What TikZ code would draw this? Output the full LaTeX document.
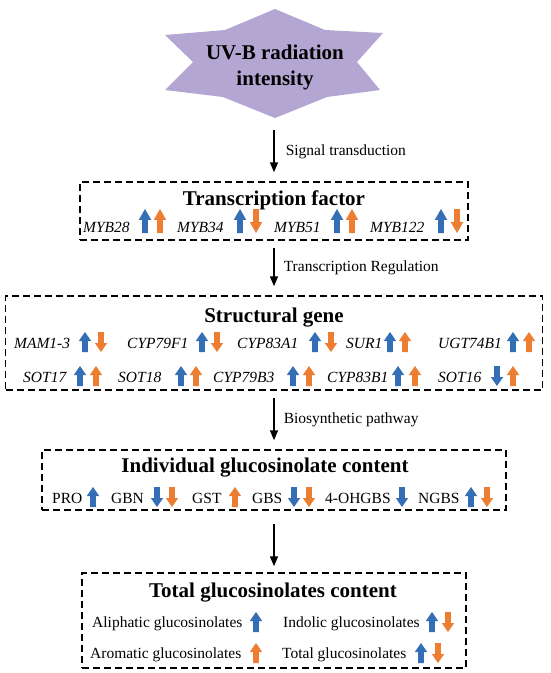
\documentclass[tikz,border=0pt]{standalone}
\usepackage{fontspec}
\setmainfont{Liberation Serif}
\usetikzlibrary{arrows.meta}

\definecolor{uvlilac}{RGB}{180,166,210}
\definecolor{upblue}{RGB}{52,110,180}
\definecolor{uporange}{RGB}{237,125,49}

% block arrow, 20pt high, pointing up (y axis runs downwards)
\newcommand{\blockarrow}{(0,-10) -- (6.2,-1) -- (2.9,-1) -- (2.9,10) -- (-2.9,10) -- (-2.9,-1) -- (-6.2,-1) -- cycle}

\begin{document}
\begin{tikzpicture}[x=1pt, y=-1pt,
  every node/.style={inner sep=0pt},
  dbox/.style={draw, line width=1.5pt, dash pattern=on 7pt off 4pt},
  ttl/.style={anchor=base, font=\bfseries\fontsize{21}{25}\selectfont},
  gene/.style={anchor=base west, font=\itshape\fontsize{15.5}{18}\selectfont},
  item/.style={anchor=base west, font=\fontsize{15.5}{18}\selectfont},
  lbl/.style={font=\fontsize{15.5}{18}\selectfont},
  flow/.style={-{Triangle[length=10pt,width=8pt]}, line width=1.6pt, shorten <=7pt, shorten >=9pt}]
  \useasboundingbox (0,0) rectangle (550,673);

  % UV-B star
  \fill[uvlilac] (275,9) -- (325,30) -- (383,33) -- (357,62) -- (380,90) -- (327,97) -- (275,118)
    -- (223,97) -- (165,90) -- (193,62) -- (165,35) -- (225,30) -- cycle;
  \node[font=\bfseries\fontsize{21}{26}\selectfont, align=center] (uvb) at (275,67) {UV-B radiation\\intensity};
  \coordinate (uvbot) at (274,130);

  % dashed boxes
  \node[dbox, minimum width=388pt, minimum height=58pt] (tf) at (274,211) {};
  \node[dbox, minimum width=537pt, minimum height=94pt] (sg) at (274,343) {};
  \node[dbox, minimum width=464pt, minimum height=60pt] (ig) at (274,480) {};
  \node[dbox, minimum width=384pt, minimum height=95pt] (tg) at (274,620.5) {};

  % flow between the levels
  \draw[flow, shorten <=0pt] (uvbot) -- (uvbot |- tf.north) node[lbl, pos=0.42, right=11pt] (sig) {Signal transduction};
  \draw[flow] (tf.south) -- (sg.north) node[lbl, midway, right=9pt] (treg) {Transcription Regulation};
  \draw[flow] (sg.south) -- (ig.north) node[lbl, midway, right=9pt] (bio) {Biosynthetic pathway};
  \draw[flow, shorten <=13pt, shorten >=6pt] (ig.south) -- (tg.north);

  % titles
  \node[ttl] (tftitle) at (274,205) {Transcription factor};
  \node[ttl] (sgtitle) at (274,322) {Structural gene};
  \node[ttl] (igtitle) at (265,472) {Individual glucosinolate content};
  \node[ttl] (tgtitle) at (273,597) {Total glucosinolates content};

  % transcription factors
  \foreach \tx/\nm/\lab in {83/myb28/MYB28, 177/myb34/MYB34, 274/myb51/MYB51, 370/myb122/MYB122}
    \node[gene] (\nm) at (\tx,232) {\lab};
  \foreach \ax/\dir/\col in {145/1/upblue, 160/1/uporange, 240/1/upblue, 256/-1/uporange,
                             337/1/upblue, 352/1/uporange, 441/1/upblue, 457/-1/uporange}
    \fill[\col, shift={(\ax,221)}, yscale=\dir, yscale=1.2] \blockarrow;

  % structural genes
  \foreach \tx/\nm/\lab in {14/mam/MAM1-3, 127/cypf/CYP79F1, 237/cypa/CYP83A1, 346/sur/SUR1, 438/ugt/UGT74B1}
    \node[gene] (\nm) at (\tx,348) {\lab};
  \foreach \ax/\dir/\col in {85/1/upblue, 101/-1/uporange, 202/1/upblue, 217/-1/uporange,
                             315/1/upblue, 331/-1/uporange, 390/1/upblue, 405/1/uporange,
                             513/1/upblue, 529/1/uporange}
    \fill[\col, shift={(\ax,342)}, yscale=\dir] \blockarrow;
  \foreach \tx/\nm/\lab in {23/sota/SOT17, 118/sotb/SOT18, 213/cypb/CYP79B3, 327/cypc/CYP83B1, 438/sotc/SOT16}
    \node[gene] (\nm) at (\tx,382) {\lab};
  \foreach \ax/\dir/\col in {80/1/upblue, 96/1/uporange, 181/1/upblue, 196/1/uporange,
                             293/1/upblue, 309/1/uporange, 398/1/upblue, 415/1/uporange,
                             497/-1/upblue, 513/1/uporange}
    \fill[\col, shift={(\ax,376)}, yscale=\dir] \blockarrow;

  % individual glucosinolates
  \foreach \tx/\nm/\lab in {52/pro/PRO, 111/gbn/GBN, 192/gst/GST, 252/gbs/GBS, 325/ohgbs/4-OHGBS, 418/ngbs/NGBS}
    \node[item] (\nm) at (\tx,503) {\lab};
  \foreach \ax/\dir/\col in {93/1/upblue, 157/-1/upblue, 172/-1/uporange, 235/1/uporange,
                             294/-1/upblue, 309/-1/uporange, 402/-1/upblue,
                             471/1/upblue, 487/-1/uporange}
    \fill[\col, shift={(\ax,497)}, yscale=\dir] \blockarrow;

  % total glucosinolates
  \node[item] (ali) at (92,627) {Aliphatic glucosinolates};
  \node[item] (ind) at (283,627) {Indolic glucosinolates};
  \node[item] (aro) at (90,658) {Aromatic glucosinolates};
  \node[item] (tot) at (282,658) {Total glucosinolates};
  \foreach \ax/\ay/\dir/\col in {256/622/1/upblue, 432/622/1/upblue, 448/622/-1/uporange,
                                 256/653/1/uporange, 421/653/1/upblue, 438/653/-1/uporange}
    \fill[\col, shift={(\ax,\ay)}, yscale=\dir] \blockarrow;
\end{tikzpicture}
\end{document}
